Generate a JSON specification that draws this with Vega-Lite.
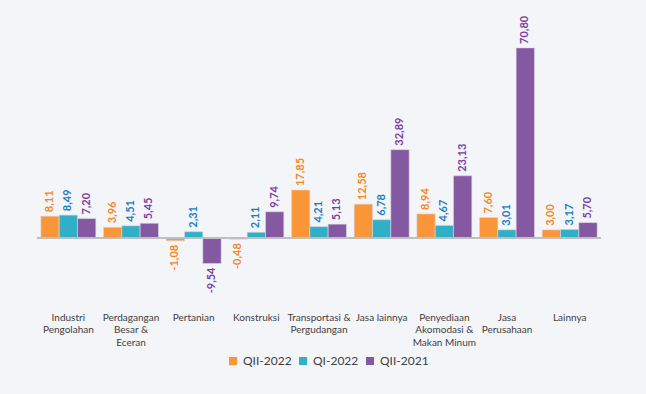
{
  "$schema": "https://vega.github.io/schema/vega-lite/v6.json",
  "autosize": "none",
  "width": 564,
  "height": 274,
  "padding": {"left": 37, "top": 20, "right": 45, "bottom": 100},
  "background": "#F4F5F9",
  "config": {
    "view": {"stroke": null},
    "font": "Lato",
    "locale": {"number": {"decimal": ",", "thousands": ".", "grouping": [3], "currency": ["", ""], "minus": "-"}}
  },
  "data": {
    "values": [
      {"cat": "Industri|Pengolahan", "series": "QII-2022", "value": 8.11},
      {"cat": "Industri|Pengolahan", "series": "QI-2022", "value": 8.49},
      {"cat": "Industri|Pengolahan", "series": "QII-2021", "value": 7.20},
      {"cat": "Perdagangan|Besar &|Eceran", "series": "QII-2022", "value": 3.96},
      {"cat": "Perdagangan|Besar &|Eceran", "series": "QI-2022", "value": 4.51},
      {"cat": "Perdagangan|Besar &|Eceran", "series": "QII-2021", "value": 5.45},
      {"cat": "Pertanian", "series": "QII-2022", "value": -1.08},
      {"cat": "Pertanian", "series": "QI-2022", "value": 2.31},
      {"cat": "Pertanian", "series": "QII-2021", "value": -9.54},
      {"cat": "Konstruksi", "series": "QII-2022", "value": -0.48},
      {"cat": "Konstruksi", "series": "QI-2022", "value": 2.11},
      {"cat": "Konstruksi", "series": "QII-2021", "value": 9.74},
      {"cat": "Transportasi &|Pergudangan", "series": "QII-2022", "value": 17.85},
      {"cat": "Transportasi &|Pergudangan", "series": "QI-2022", "value": 4.21},
      {"cat": "Transportasi &|Pergudangan", "series": "QII-2021", "value": 5.13},
      {"cat": "Jasa lainnya", "series": "QII-2022", "value": 12.58},
      {"cat": "Jasa lainnya", "series": "QI-2022", "value": 6.78},
      {"cat": "Jasa lainnya", "series": "QII-2021", "value": 32.89},
      {"cat": "Penyediaan|Akomodasi &|Makan Minum", "series": "QII-2022", "value": 8.94},
      {"cat": "Penyediaan|Akomodasi &|Makan Minum", "series": "QI-2022", "value": 4.67},
      {"cat": "Penyediaan|Akomodasi &|Makan Minum", "series": "QII-2021", "value": 23.13},
      {"cat": "Jasa|Perusahaan", "series": "QII-2022", "value": 7.60},
      {"cat": "Jasa|Perusahaan", "series": "QI-2022", "value": 3.01},
      {"cat": "Jasa|Perusahaan", "series": "QII-2021", "value": 70.80},
      {"cat": "Lainnya", "series": "QII-2022", "value": 3.00},
      {"cat": "Lainnya", "series": "QI-2022", "value": 3.17},
      {"cat": "Lainnya", "series": "QII-2021", "value": 5.70}
    ]
  },
  "layer": [
    {
      "mark": {"type": "bar", "stroke": "#D9D9E0", "strokeWidth": 0.6},
      "encoding": {
        "x": {
          "field": "cat", "type": "nominal", "sort": null,
          "scale": {"paddingInner": 0.123, "paddingOuter": 0.0615},
          "axis": {
            "title": null, "domain": false, "ticks": false, "labelAngle": 0,
            "labelPadding": 18, "labelFontSize": 10, "labelColor": "#404040",
            "labelLineHeight": 12.5, "labelBaseline": "top", "labelFont": "Lato",
            "labelExpr": "split(datum.value, '|')"
          }
        },
        "xOffset": {"field": "series", "type": "nominal", "sort": ["QII-2022", "QI-2022", "QII-2021"]},
        "y": {
          "field": "value", "type": "quantitative",
          "scale": {"domain": [-20.9, 81.2], "nice": false, "zero": false},
          "axis": null
        },
        "color": {
          "field": "series", "type": "nominal",
          "sort": ["QII-2022", "QI-2022", "QII-2021"],
          "scale": {"domain": ["QII-2022", "QI-2022", "QII-2021"], "range": ["#FB9638", "#31AFC7", "#8459A1"]},
          "legend": {
            "title": null, "orient": "none", "direction": "horizontal",
            "legendX": 190, "legendY": 335,
            "symbolType": "square", "symbolSize": 64, "symbolStrokeWidth": 0,
            "labelFontSize": 12, "labelColor": "#404040", "labelFont": "Lato",
            "labelOffset": 4, "columnPadding": 5
          }
        }
      }
    },
    {
      "mark": {"type": "rule", "color": "#BFBFBF", "strokeWidth": 1.5},
      "encoding": {
        "y": {"datum": 0, "type": "quantitative"}
      }
    },
    {
      "transform": [{"filter": "datum.value >= 0"}],
      "mark": {"type": "text", "angle": 270, "align": "left", "baseline": "middle", "dx": 4, "fontWeight": "bold", "fontSize": 11},
      "encoding": {
        "x": {"field": "cat", "type": "nominal", "sort": null},
        "xOffset": {"field": "series", "type": "nominal", "sort": ["QII-2022", "QI-2022", "QII-2021"]},
        "y": {"field": "value", "type": "quantitative"},
        "text": {"field": "value", "type": "quantitative", "format": ".2f"},
        "color": {
          "field": "series", "type": "nominal",
          "scale": {"domain": ["QII-2022", "QI-2022", "QII-2021"], "range": ["#F7861E", "#1A7DC4", "#7A3DA3"]},
          "legend": null
        }
      }
    },
    {
      "transform": [{"filter": "datum.value < 0"}],
      "mark": {"type": "text", "angle": 270, "align": "right", "baseline": "middle", "dx": -4, "fontWeight": "bold", "fontSize": 11},
      "encoding": {
        "x": {"field": "cat", "type": "nominal", "sort": null},
        "xOffset": {"field": "series", "type": "nominal", "sort": ["QII-2022", "QI-2022", "QII-2021"]},
        "y": {"field": "value", "type": "quantitative"},
        "text": {"field": "value", "type": "quantitative", "format": ".2f"},
        "color": {
          "field": "series", "type": "nominal",
          "scale": {"domain": ["QII-2022", "QI-2022", "QII-2021"], "range": ["#F7861E", "#1A7DC4", "#7A3DA3"]},
          "legend": null
        }
      }
    }
  ],
  "resolve": {"scale": {"color": "independent"}}
}
